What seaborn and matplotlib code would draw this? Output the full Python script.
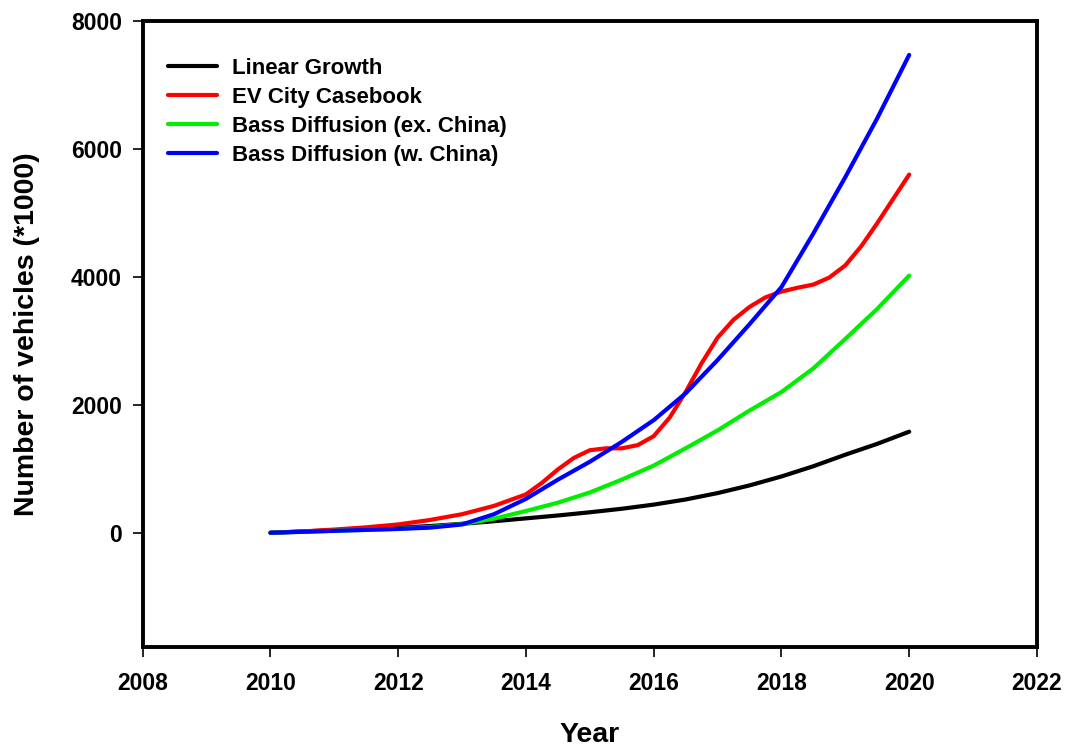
import matplotlib
matplotlib.use("Agg")
import matplotlib.pyplot as plt
import seaborn as sns
import pandas as pd

years = [2010.0, 2010.5, 2011.0, 2011.5, 2012.0, 2012.5, 2013.0, 2013.5, 2014.0, 2014.5,
         2015.0, 2015.5, 2016.0, 2016.5, 2017.0, 2017.5, 2018.0, 2018.5, 2019.0, 2019.5, 2020.0]

linear_growth = [0, 20, 40, 60, 80, 105, 140, 180, 225, 270,
                 320, 375, 440, 520, 620, 740, 880, 1040, 1220, 1390, 1580]
bass_ex_china = [0, 15, 30, 45, 60, 90, 135, 220, 340, 470,
                 630, 830, 1050, 1320, 1600, 1910, 2200, 2570, 3030, 3500, 4020]
bass_w_china = [0, 15, 30, 45, 60, 80, 130, 290, 530, 830,
                1110, 1420, 1760, 2180, 2700, 3260, 3840, 4680, 5560, 6480, 7470]

casebook_years = [2010.0, 2010.5, 2011.0, 2011.5, 2012.0, 2012.5, 2013.0, 2013.5,
                  2014.0, 2014.25, 2014.5, 2014.75, 2015.0, 2015.25, 2015.5, 2015.75,
                  2016.0, 2016.25, 2016.5, 2016.75, 2017.0, 2017.25, 2017.5, 2017.75,
                  2018.0, 2018.25, 2018.5, 2018.75, 2019.0, 2019.25, 2019.5, 2019.75, 2020.0]
ev_city_casebook = [0, 20, 50, 85, 130, 200, 290, 420,
                    600, 780, 990, 1170, 1290, 1320, 1320, 1370,
                    1510, 1800, 2200, 2650, 3050, 3330, 3530, 3680,
                    3770, 3830, 3880, 3990, 4180, 4480, 4840, 5220, 5600]

series_names = ["Linear Growth", "EV City Casebook",
                "Bass Diffusion (ex. China)", "Bass Diffusion (w. China)"]
series_x = [years, casebook_years, years, years]
series_values = [linear_growth, ev_city_casebook, bass_ex_china, bass_w_china]
colors = ["#000000", "#ff0000", "#00ee00", "#0000ff"]

x_ticks = [2008, 2010, 2012, 2014, 2016, 2018, 2020, 2022]
y_ticks = [0, 2000, 4000, 6000, 8000]

rows = []
for name, xs, vals in zip(series_names, series_x, series_values):
    for yr, v in zip(xs, vals):
        rows.append({"Year": yr, "Value": v, "Series": name})
df = pd.DataFrame(rows)

sns.set_style("ticks")
plt.rcParams["font.family"] = ["Liberation Sans", "DejaVu Sans"]
plt.rcParams["font.weight"] = "bold"
plt.rcParams["text.color"] = "black"
plt.rcParams["axes.labelcolor"] = "black"
plt.rcParams["xtick.color"] = "black"
plt.rcParams["ytick.color"] = "black"

fig = plt.figure(figsize=(10.69, 7.51), dpi=100)
ax = fig.add_axes([0.1335, 0.139, 0.8365, 0.833])

sns.lineplot(data=df, x="Year", y="Value", hue="Series", hue_order=series_names,
             palette=dict(zip(series_names, colors)), linewidth=3.0, ax=ax,
             solid_capstyle="round", solid_joinstyle="round", estimator=None, sort=True)

ax.set_xlim(2008, 2022)
ax.set_ylim(-1780, 8000)
ax.set_xticks(x_ticks)
ax.set_yticks(y_ticks)
ax.set_xticklabels([str(t) for t in x_ticks], fontsize=16.5, fontweight="bold", color="black")
ax.set_yticklabels([str(t) for t in y_ticks], fontsize=16.5, fontweight="bold", color="black")
ax.tick_params(axis="x", direction="out", length=7, width=1.2, color="black", pad=11)
ax.tick_params(axis="y", direction="out", length=7, width=1.2, color="black", pad=8)

for sp in ax.spines.values():
    sp.set_visible(True)
    sp.set_linewidth(2.8)
    sp.set_color("black")

ax.set_xlabel("Year", fontsize=20.5, fontweight="bold", labelpad=20, color="black")
ax.set_ylabel("Number of vehicles (*1000)", fontsize=20.5, fontweight="bold",
              labelpad=22, color="black")

leg = ax.legend(loc="upper left", bbox_to_anchor=(0.018, 0.955), frameon=False,
                fontsize=16, handlelength=2.2, handletextpad=0.7,
                labelspacing=0.36, borderaxespad=0)
for line in leg.get_lines():
    line.set_linewidth(3.0)
for t in leg.get_texts():
    t.set_fontweight("bold")
    t.set_color("black")

fig.savefig("out.png", dpi=100)
